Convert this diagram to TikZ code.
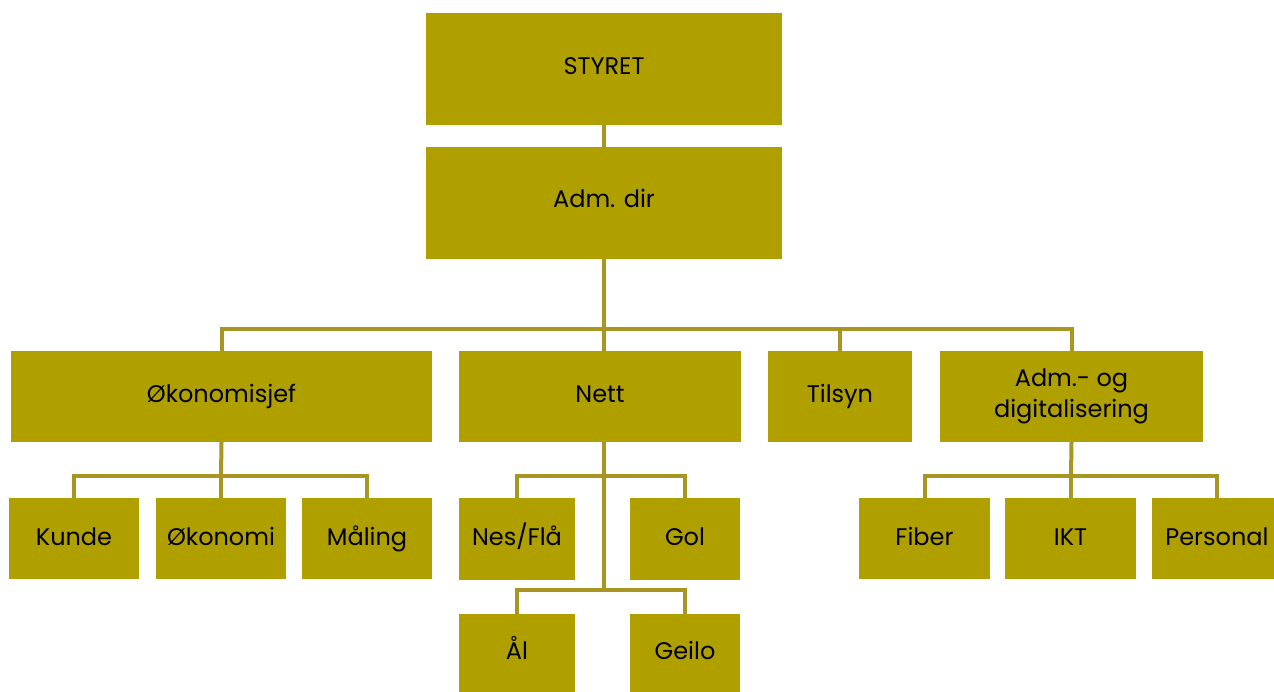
\documentclass[tikz,border=0pt]{standalone}
\usepackage{fontspec}
\setmainfont{Poppins}
\begin{document}
\begin{tikzpicture}[x=1pt,y=-1pt,
  orgbox/.style={rectangle, fill=boxfill, draw=none, inner sep=0pt,
    font=\fontsize{24}{31}\selectfont, text=black, text height=17pt, text depth=4pt},
  orgboxml/.style={rectangle, fill=boxfill, draw=none, inner sep=0pt, align=center,
    font=\fontsize{24}{31}\selectfont, text=black},
  conn/.style={draw=linecol, line width=4pt}]
\definecolor{boxfill}{HTML}{AFA000}
\definecolor{linecol}{HTML}{A89622}
\useasboundingbox[fill=white] (0,0) rectangle (1274,691);
% boxes
\node[orgbox, minimum width=356pt, minimum height=112pt, text depth=7pt] (styret) at (604,69) {STYRET};
\node[orgbox, minimum width=356pt, minimum height=112pt, text depth=9pt] (adm) at (604,203) {Adm. dir};
\node[orgbox, minimum width=421pt, minimum height=91pt, text depth=6pt] (okj) at (221.5,396.5) {Økonomisjef};
\node[orgbox, minimum width=282pt, minimum height=91pt, text depth=6pt] (nett) at (600,396.5) {Nett};
\node[orgbox, minimum width=144pt, minimum height=91pt, text depth=6pt] (tilsyn) at (840,396.5) {Tilsyn};
\node[orgboxml, minimum width=263pt, minimum height=91pt] (adig) at (1071.5,396.5) {Adm.- og\\digitalisering};
\node[orgbox, minimum width=130pt, minimum height=81pt] (kunde) at (74,538.5) {Kunde};
\node[orgbox, minimum width=130pt, minimum height=81pt] (okonomi) at (221,538.5) {Økonomi};
\node[orgbox, minimum width=130pt, minimum height=81pt] (maling) at (367,538.5) {Måling};
\node[orgbox, minimum width=116pt, minimum height=82pt] (nesfla) at (517,539) {Nes/Flå};
\node[orgbox, minimum width=110pt, minimum height=82pt] (gol) at (685,539) {Gol};
\node[orgbox, minimum width=116pt, minimum height=78pt] (al) at (517,653) {Ål};
\node[orgbox, minimum width=110pt, minimum height=78pt] (geilo) at (685,653) {Geilo};
\node[orgbox, minimum width=131pt, minimum height=81pt] (fiber) at (924.5,538.5) {Fiber};
\node[orgbox, minimum width=131pt, minimum height=81pt] (ikt) at (1070.5,538.5) {IKT};
\node[orgbox, minimum width=130pt, minimum height=81pt] (personal) at (1217,538.5) {Personal};
% bus coordinates
\coordinate (bus1) at (604,329);
\coordinate (busok) at (221,476);
\coordinate (busn1) at (604,476);
\coordinate (busn2) at (604,590);
\coordinate (busad) at (1071,476);
% connectors
\draw[conn] (styret.south) -- (adm.north);
\draw[conn] (adm.south) -- (bus1);
\draw[conn] (okj.north) |- (bus1) -| (adig.north);
\draw[conn] (bus1) -- (bus1 |- nett.north);
\draw[conn] (tilsyn.north) -- (tilsyn.north |- bus1);
\draw[conn] (okj.south) -- (busok);
\draw[conn] (kunde.north) |- (busok) -| (maling.north);
\draw[conn] (busok) -- (okonomi.north);
\draw[conn] (nett.south -| busn1) -- (busn2);
\draw[conn] (nesfla.north) |- (busn1) -| (gol.north);
\draw[conn] (al.north) |- (busn2) -| (geilo.north);
\draw[conn] (adig.south) -- (busad);
\draw[conn] (fiber.north) |- (busad) -| (personal.north);
\draw[conn] (busad) -- (busad |- ikt.north);
\end{tikzpicture}
\end{document}
